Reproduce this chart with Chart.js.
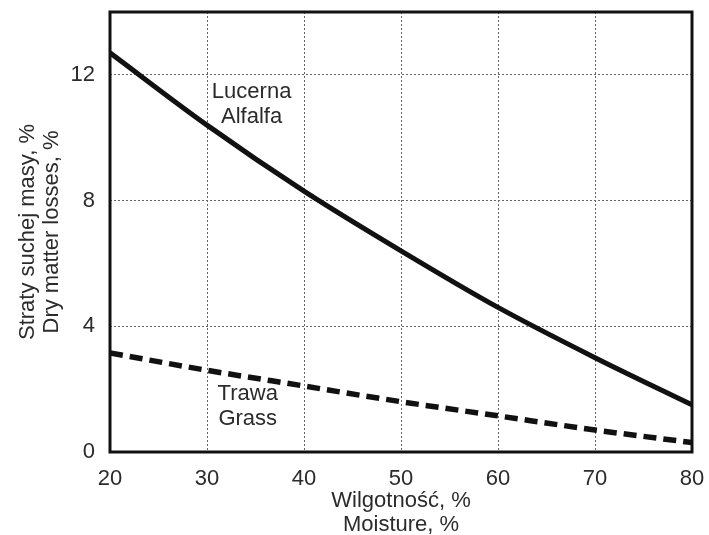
<!DOCTYPE html>
<html>
<head>
<meta charset="utf-8">
<script src="https://cdn.jsdelivr.net/npm/chart.js@4.4.0/dist/chart.umd.min.js"></script>
<style>
  html, body { margin: 0; padding: 0; background: #fff; }
  #wrap { width: 709px; height: 535px; }
</style>
</head>
<body>
<div id="wrap"><canvas id="myChart" width="709" height="535"></canvas></div>
<script>
// -------------  DATA  -------------
const moisture  = [20, 30, 40, 50, 60, 70, 80];
const alfalfa   = [12.7, 10.4, 8.3, 6.4, 4.6, 3.0, 1.5];
const grass     = [3.15, 2.6, 2.1, 1.6, 1.15, 0.7, 0.3];
const xTicks    = [20, 30, 40, 50, 60, 70, 80];
const yTicks    = [0, 4, 8, 12];

// curve labels, placed in data units
const curveLabels = [
    { x: 34.6, y: 11.45, text: 'Lucerna' },
    { x: 34.6, y: 10.65, text: 'Alfalfa' },
    { x: 34.2, y: 1.85,  text: 'Trawa' },
    { x: 34.2, y: 1.05,  text: 'Grass' }
];

const TEXT = '#2b2b2b';
const FONT = 'Liberation Sans, Arial, sans-serif';
const FSIZE = 22;

function toPoints(ys) {
    return moisture.map((x, i) => ({ x: x, y: ys[i] }));
}

// frame around the plot + curve names
const framePlugin = {
    id: 'frame',
    afterDatasetsDraw(chart) {
        const { ctx, chartArea: a, scales } = chart;
        ctx.save();
        ctx.strokeStyle = '#111';
        ctx.lineWidth = 3;
        ctx.strokeRect(a.left, a.top, a.right - a.left, a.bottom - a.top);

        ctx.fillStyle = TEXT;
        ctx.font = FSIZE + 'px ' + FONT;
        ctx.textAlign = 'center';
        ctx.textBaseline = 'middle';
        curveLabels.forEach(l => {
            ctx.fillText(l.text, scales.x.getPixelForValue(l.x), scales.y.getPixelForValue(l.y));
        });
        ctx.restore();
    }
};

const ctx = document.getElementById('myChart').getContext('2d');
new Chart(ctx, {
    type: 'line',
    data: {
        datasets: [
            {
                label: 'Lucerna / Alfalfa',
                data: toPoints(alfalfa),
                borderColor: '#111',
                borderWidth: 5,
                pointRadius: 0,
                cubicInterpolationMode: 'monotone',
                fill: false
            },
            {
                label: 'Trawa / Grass',
                data: toPoints(grass),
                borderColor: '#111',
                borderWidth: 5.5,
                borderDash: [13, 7],
                pointRadius: 0,
                cubicInterpolationMode: 'monotone',
                fill: false
            }
        ]
    },
    plugins: [framePlugin],
    options: {
        responsive: false,
        animation: false,
        devicePixelRatio: 1,
        layout: { padding: { top: 12, right: 17, left: 0, bottom: 0 } },
        plugins: {
            legend: { display: false },
            tooltip: { enabled: false }
        },
        scales: {
            x: {
                type: 'linear',
                min: 20,
                max: 80,
                afterBuildTicks: s => { s.ticks = xTicks.map(v => ({ value: v })); },
                afterFit: s => { s.height = 83; s.paddingLeft = 0; s.paddingRight = 0; },
                ticks: {
                    color: TEXT,
                    font: { size: FSIZE, family: FONT },
                    padding: 14,
                    maxRotation: 0
                },
                grid: {
                    color: '#666',
                    lineWidth: 1,
                    drawTicks: false
                },
                border: { display: false, dash: [2, 2] },
                title: {
                    display: true,
                    text: ['Wilgotność, %', 'Moisture, %'],
                    color: TEXT,
                    font: { size: FSIZE, family: FONT, lineHeight: 1.1 },
                    padding: { top: 0, bottom: -2 }
                }
            },
            y: {
                type: 'linear',
                min: 0,
                max: 14,
                afterBuildTicks: s => { s.ticks = yTicks.map(v => ({ value: v })); },
                afterFit: s => { s.width = 110; s.paddingTop = 0; s.paddingBottom = 0; },
                ticks: {
                    color: TEXT,
                    font: { size: FSIZE, family: FONT },
                    padding: 15
                },
                grid: {
                    color: '#666',
                    lineWidth: 1,
                    drawTicks: false
                },
                border: { display: false, dash: [2, 2] },
                title: {
                    display: true,
                    text: ['Straty suchej masy, %', 'Dry matter losses, %'],
                    color: TEXT,
                    font: { size: FSIZE, family: FONT, lineHeight: 1.1 },
                    padding: { top: 16 }
                }
            }
        }
    }
});
</script>
</body>
</html>
